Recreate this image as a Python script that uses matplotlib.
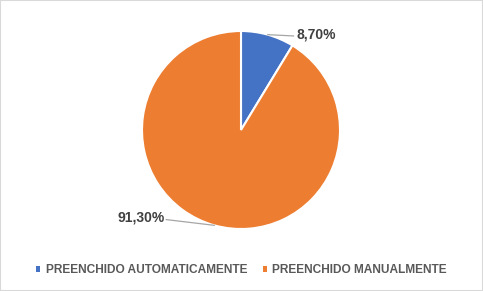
import matplotlib
matplotlib.use('Agg')
import matplotlib.pyplot as plt
from matplotlib.patches import Rectangle, Patch

labels = ['PREENCHIDO AUTOMATICAMENTE', 'PREENCHIDO MANUALMENTE']
values = [8.70, 91.30]
colors = ['#4472C4', '#ED7D31']

plt.rcParams['font.family'] = ['Liberation Sans', 'DejaVu Sans']

fig = plt.figure(figsize=(4.83, 2.91), dpi=100)
fig.patches.append(Rectangle((0, 0), 1, 1, transform=fig.transFigure, fill=False,
                             edgecolor='#D9D9D9', linewidth=1.5))

# pie centre at (241,130) px, radius 99 px
ax = fig.add_axes([(241 - 99) / 483, (161 - 99) / 291, 198 / 483, 198 / 291])
wedges, _ = ax.pie(values, colors=colors, startangle=90, counterclock=False,
                   wedgeprops=dict(edgecolor='white', linewidth=1.5))
ax.set_xlim(-1, 1)
ax.set_ylim(-1, 1)
ax.set_aspect('equal')

txt = [f'{v:.2f}'.replace('.', ',') + '%' for v in values]
# label 1 (blue)
ax.plot([0.27, 0.53], [0.963, 0.95], color='#A6A6A6', lw=0.9, clip_on=False)
ax.text(0.56, 0.965, txt[0], fontsize=10, fontweight='bold', color='#404040',
        ha='left', va='center')
# label 2 (orange)
ax.plot([-0.27, -0.755], [-0.963, -0.905], color='#A6A6A6', lw=0.9, clip_on=False)
ax.text(-0.775, -0.885, txt[1], fontsize=10, fontweight='bold', color='#404040',
        ha='right', va='center')

handles = [Patch(facecolor=c, edgecolor='none') for c in colors]
leg = fig.legend(handles, labels, loc='center', bbox_to_anchor=(0.5, 1 - 270 / 291), ncol=2,
                 frameon=False, prop={'size': 8.6, 'weight': 'bold'}, labelcolor='#595959',
                 handlelength=0.35, handleheight=0.35, handletextpad=0.45, columnspacing=1.3)

fig.savefig('out.png', dpi=100)
